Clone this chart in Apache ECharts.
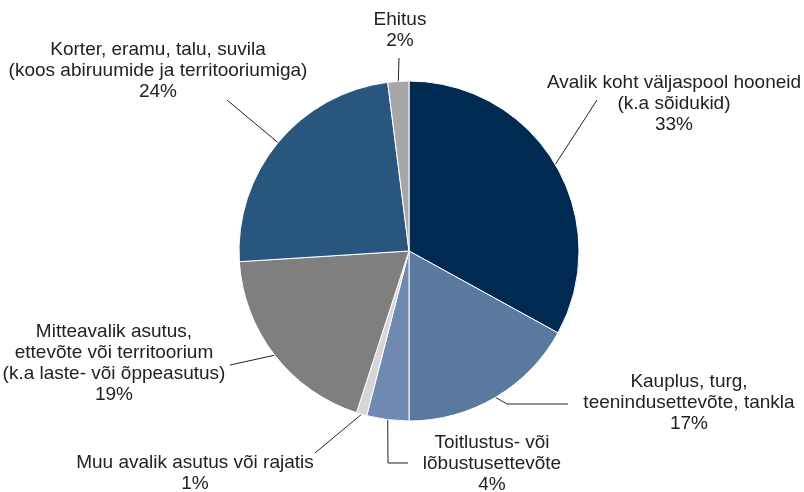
<!DOCTYPE html>
<html>
<head>
<meta charset="utf-8">
<script src="https://cdn.jsdelivr.net/npm/echarts@6/dist/echarts.min.js"></script>
<style>
  html, body { margin: 0; padding: 0; background: #fff; }
  #pie { width: 804px; height: 492px; }
</style>
</head>
<body>
<div id="pie"></div>
<script>
// kategooriad (päripäeva, alates kella 12-st)
var categories = [
  'Avalik koht väljaspool hooneid\n(k.a sõidukid)',
  'Kauplus, turg,\nteenindusettevõte, tankla',
  'Toitlustus- või\nlõbustusettevõte',
  'Muu avalik asutus või rajatis',
  'Mitteavalik asutus,\nettevõte või territoorium\n(k.a laste- või õppeasutus)',
  'Korter, eramu, talu, suvila\n(koos abiruumide ja territooriumiga)',
  'Ehitus'
];
var shares = [33, 17, 4, 1, 19, 24, 2];   // %
var colors = ['#002a52', '#59799e', '#7089b0', '#d6d6d6', '#7f7f7f', '#29567e', '#a7a7a9'];

// siltide asukohad: [keskpunkt x, ploki ülaserv y]
var labelPos = [
  [674, 72], [689, 371], [492, 432], [195, 452], [114, 321], [158, 39], [400, 9]
];
// joone murdepunktid sildi poolel (alguspunkt tuleb sektori servalt)
var guideEnds = [
  [[597, 100]],
  [[507, 404], [568, 404]],
  [[388, 463], [408, 463]],
  [[315, 453]],
  [[230, 365]],
  [[227, 100]],
  [[399, 58]]
];

var chart = echarts.init(document.getElementById('pie'));

var option = {
  animation: false,
  series: [
    {
      type: 'pie',
      center: [409, 251],
      radius: [0, 170],
      startAngle: 90,
      clockwise: true,
      silent: true,
      itemStyle: {
        borderColor: '#fff',
        borderWidth: 1
      },
      label: {
        show: true,
        position: 'outside',
        formatter: '{b}\n{c}%',
        fontFamily: 'Liberation Sans, Arial, sans-serif',
        fontSize: 19,
        lineHeight: 21,
        color: '#222',
        align: 'center',
        width: 400,
        overflow: 'none'
      },
      labelLine: {
        show: true,
        length: 20,
        length2: 20,
        lineStyle: { color: '#222', width: 1 }
      },
      labelLayout: function (params) {
        var p = labelPos[params.dataIndex];
        var start = params.labelLinePoints ? params.labelLinePoints[0] : null;
        var out = {
          x: p[0],
          y: p[1],
          align: 'center',
          verticalAlign: 'top'
        };
        if (start) {
          out.labelLinePoints = [start].concat(guideEnds[params.dataIndex]);
        }
        return out;
      },
      data: categories.map(function (c, i) {
        return { name: c, value: shares[i], itemStyle: { color: colors[i] } };
      })
    }
  ]
};

chart.setOption(option);
</script>
</body>
</html>
